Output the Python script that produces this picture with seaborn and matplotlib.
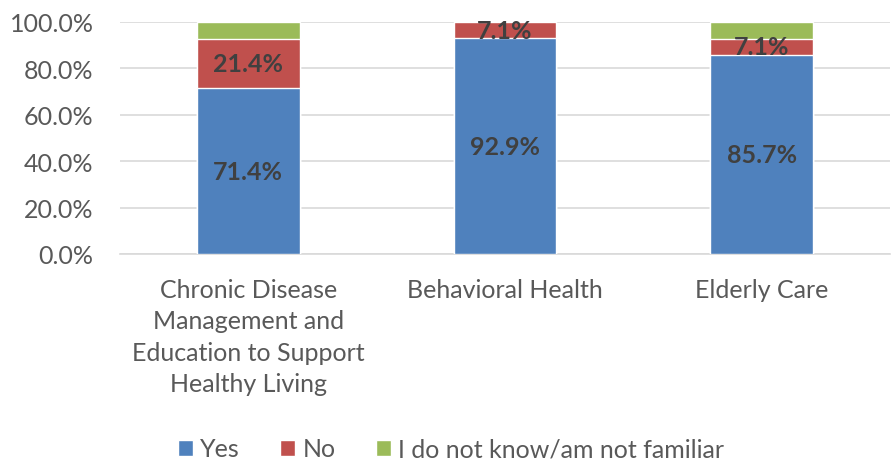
import matplotlib
matplotlib.use("Agg")
import matplotlib.pyplot as plt
import numpy as np
import pandas as pd
import seaborn as sns

# Data (percent)
categories = ["Chronic Disease\nManagement and\nEducation to Support\nHealthy Living",
              "Behavioral Health", "Elderly Care"]
yes = [71.4, 92.9, 85.7]
no = [21.4, 7.1, 7.1]
dont_know = [7.2, 0.0, 7.2]
series_names = ["Yes", "No", "I do not know/am not familiar"]
colors = ["#4F81BD", "#C0504D", "#9BBB59"]

sns.set_style("white")
plt.rcParams["font.family"] = ["Lato", "DejaVu Sans"]

df = pd.DataFrame({"category": categories, "yes": yes, "no": no, "dk": dont_know})
df["top_no"] = df["yes"] + df["no"]
df["top_dk"] = df["top_no"] + df["dk"]

fig = plt.figure(figsize=(8.96, 4.64), dpi=100)
ax = fig.add_axes([120 / 896, 1 - 255 / 464, 770 / 896, 232 / 464])

# stacked look: draw cumulative totals back to front
sns.barplot(data=df, x="category", y="top_dk", color=colors[2], width=0.4,
            saturation=1, ax=ax, label=series_names[2], zorder=2)
sns.barplot(data=df, x="category", y="top_no", color=colors[1], width=0.4,
            saturation=1, ax=ax, label=series_names[1], zorder=3)
sns.barplot(data=df, x="category", y="yes", color=colors[0], width=0.4,
            saturation=1, ax=ax, label=series_names[0], zorder=4)

# segment labels
for i, row in df.iterrows():
    ax.text(i, row["yes"] / 2, f"{row['yes']:.1f}%", ha="center", va="center",
            fontsize=18, fontweight="bold", color="#404040", zorder=6)
    ax.text(i, row["yes"] + row["no"] / 2, f"{row['no']:.1f}%", ha="center", va="center",
            fontsize=18, fontweight="bold", color="#404040", zorder=6)

ax.set_ylim(0, 100)
ax.set_xlim(-0.5, 2.5)
ax.set_yticks(np.arange(0, 101, 20))
ax.set_yticklabels([f"{v:.1f}%" for v in np.arange(0, 101, 20)])
ax.yaxis.grid(True, color="#D9D9D9", linewidth=1.2, zorder=0)
ax.set_axisbelow(True)
for side in ["top", "right", "left"]:
    ax.spines[side].set_visible(False)
ax.spines["bottom"].set_color("#D9D9D9")
ax.spines["bottom"].set_linewidth(1.2)
ax.tick_params(axis="both", length=0, labelsize=18, colors="#595959")
ax.tick_params(axis="y", pad=19)
ax.tick_params(axis="x", pad=17)
for lab in ax.get_xticklabels():
    lab.set_linespacing(1.45)
ax.set_xlabel("")
ax.set_ylabel("")

handles, labels = ax.get_legend_handles_labels()
order = [labels.index(n) for n in series_names]
ax.legend([handles[k] for k in order], [labels[k] for k in order],
          loc="center", bbox_to_anchor=(0.5 * 770 / 896 + 0.0, -0.84), ncol=3,
          frameon=False, fontsize=18, labelcolor="#595959", handlelength=0.6,
          handleheight=0.6, handletextpad=0.3, columnspacing=1.6)

fig.savefig("out.png", dpi=100)
